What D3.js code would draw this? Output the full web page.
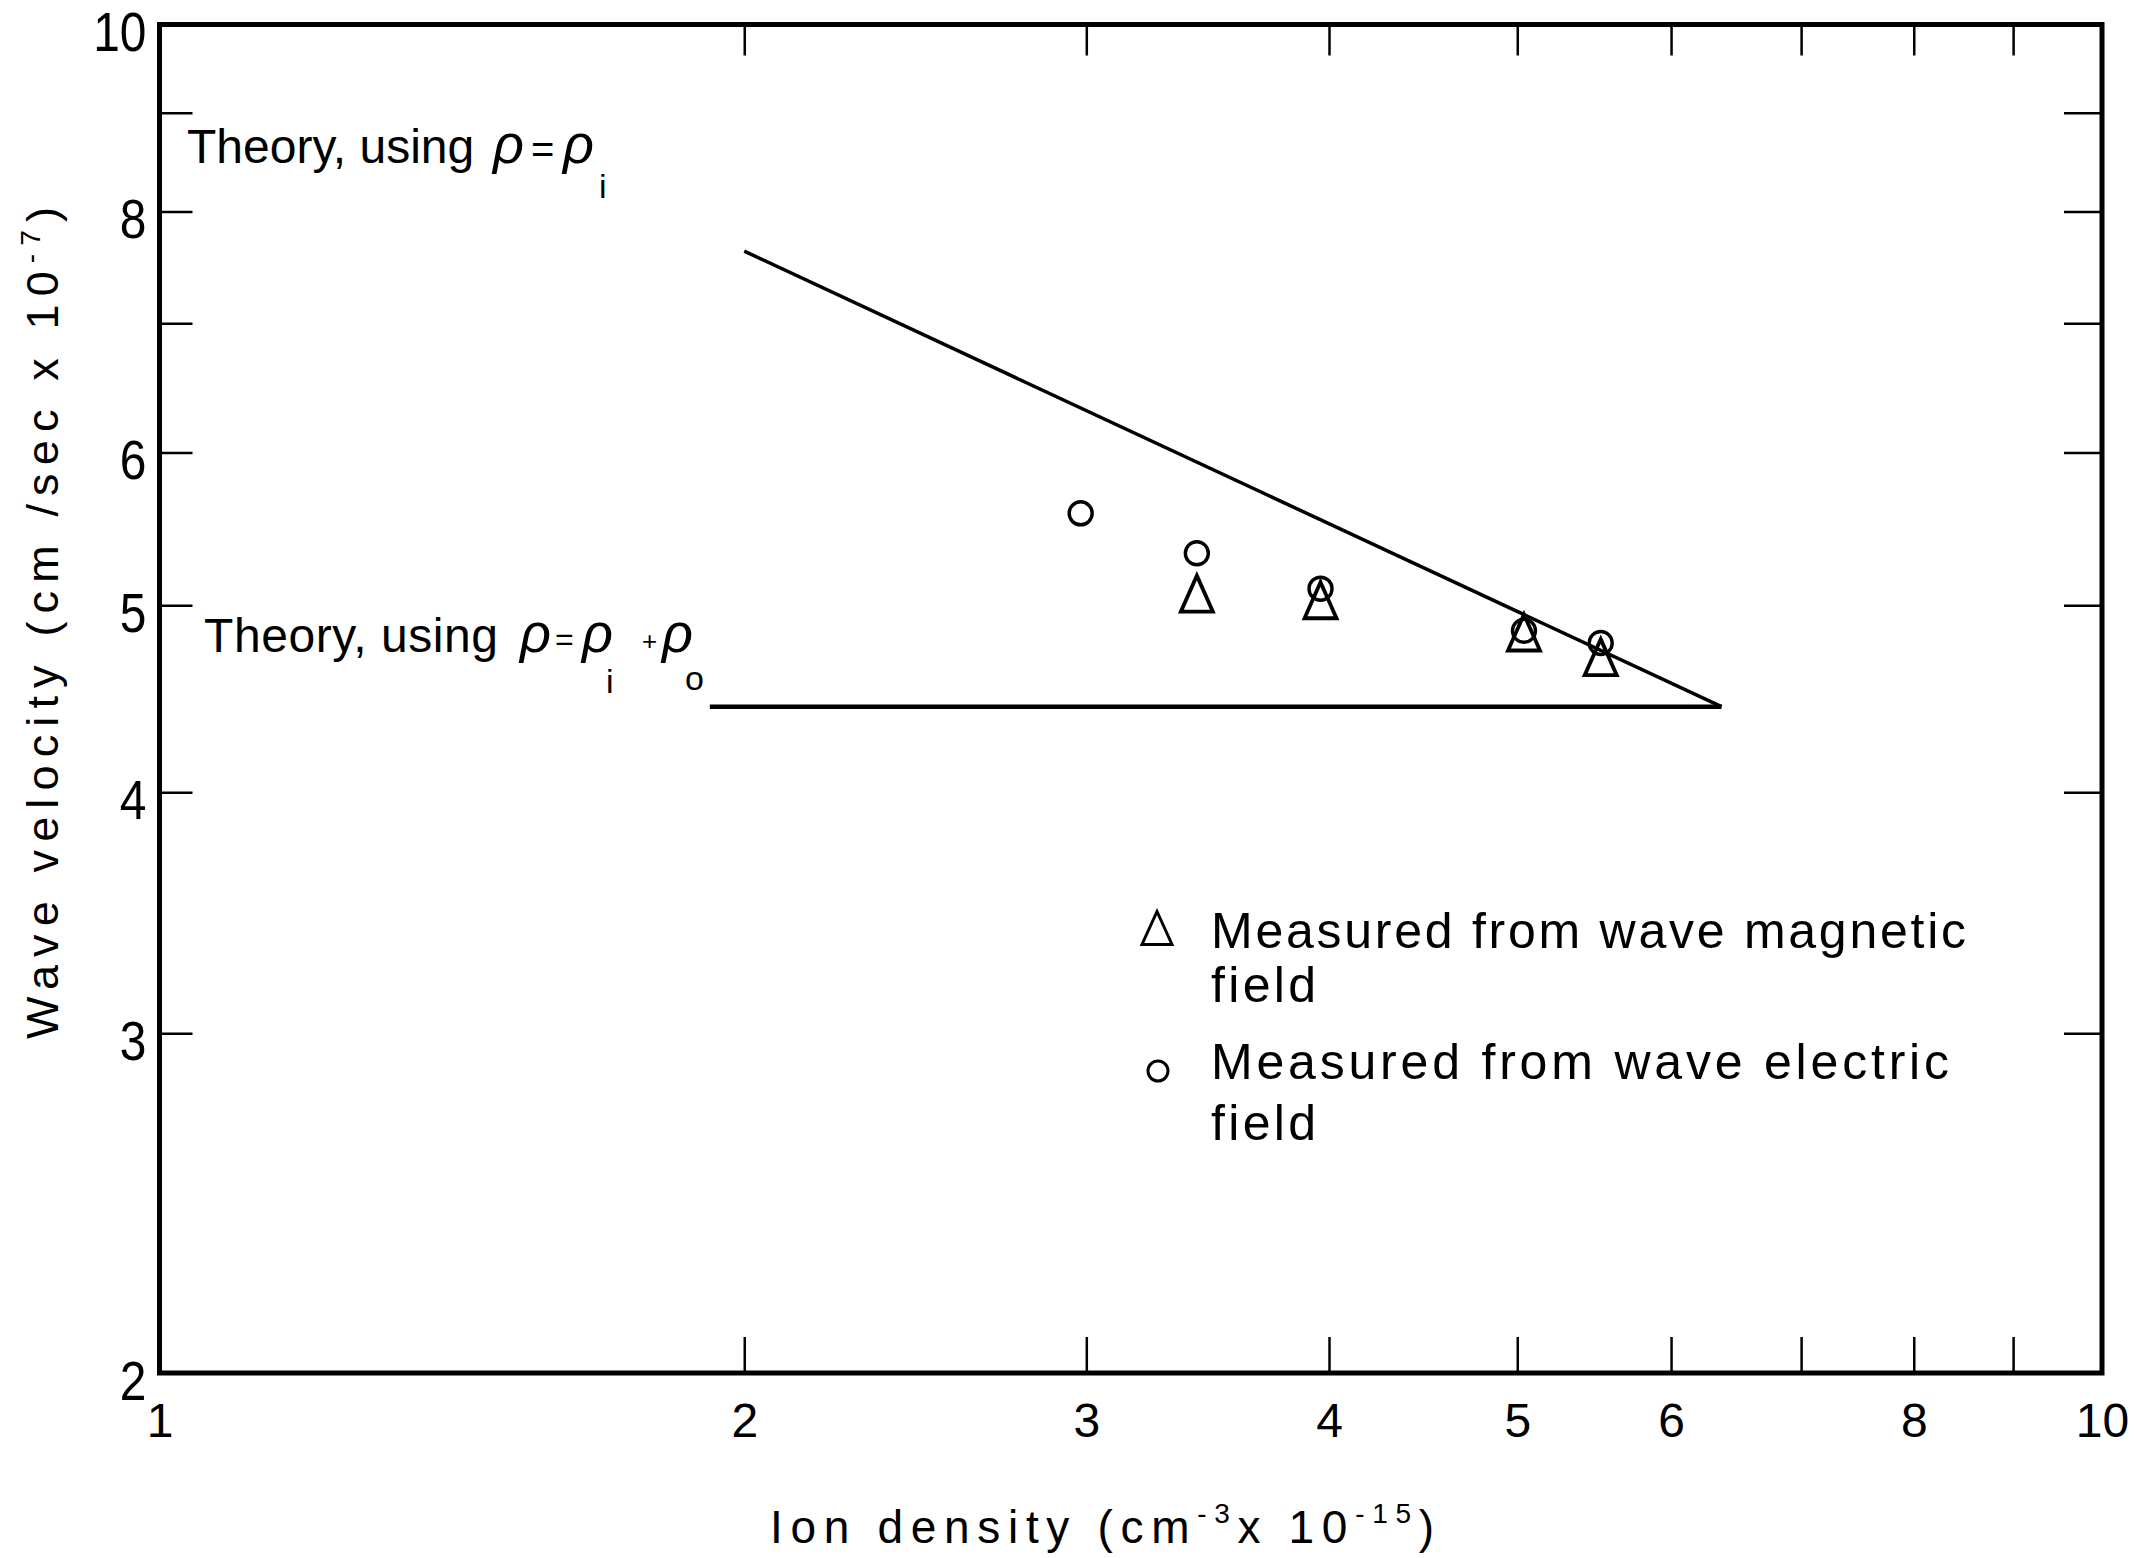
<!DOCTYPE html>
<html>
<head>
<meta charset="utf-8">
<script src="https://cdn.jsdelivr.net/npm/d3@7"></script>
<style>
  body { margin: 0; background: #fff; }
  svg { display: block; }
</style>
</head>
<body>
<div id="chart"></div>
<script>
const width = 2136
const height = 1558
const margin = { top: 24.5, left: 159.5, bottom: 185, right: 34 }

// ion density (cm^-3 x 10^-15) vs wave velocity (cm/sec x 10^-7)
const electricDensity = [2.98, 3.42, 3.96, 5.04, 5.52]
const electricVelocity = [5.58, 5.32, 5.10, 4.85, 4.78]
const magneticDensity = [3.42, 3.96, 5.04, 5.52]
const magneticVelocity = [5.07, 5.03, 4.84, 4.70]
const theoryIonDensity = [2.0, 6.37]
const theoryIonVelocity = [7.63, 4.43]
const theoryTotalDensity = [1.92, 6.37]
const theoryTotalVelocity = [4.43, 4.43]

const xTicks = [1, 2, 3, 4, 5, 6, 7, 8, 9, 10]
const xLabels = [1, 2, 3, 4, 5, 6, 8, 10]
const yTicks = [2, 3, 4, 5, 6, 7, 8, 9, 10]
const yLabels = [2, 3, 4, 5, 6, 8, 10]

const narrow = '"Liberation Sans Narrow", "Liberation Sans", Arial, sans-serif'
const sans = '"Liberation Sans", Arial, sans-serif'

const svg = d3.select('#chart')
  .append('svg')
  .attr('width', width)
  .attr('height', height)
  .style('background', '#fff')

const x = d3.scaleLog().domain([1, 10]).range([margin.left, width - margin.right])
const y = d3.scaleLog().domain([2, 10]).range([height - margin.bottom, margin.top])

function styleAxis (g) {
  g.select('.domain').remove()
  g.selectAll('.tick line').attr('stroke', '#000').attr('stroke-width', 2.5)
  g.selectAll('.tick text').attr('fill', '#000')
  g.attr('font-family', narrow).attr('font-size', 48)
}

svg.append('g')
  .attr('transform', 'translate(0,' + y.range()[0] + ')')
  .call(d3.axisBottom(x).tickValues(xTicks).tickSize(-36).tickPadding(30)
    .tickFormat(d => xLabels.includes(d) ? d : ''))
  .call(styleAxis)

svg.append('g')
  .attr('transform', 'translate(0,' + y.range()[1] + ')')
  .call(d3.axisTop(x).tickValues(xTicks).tickSize(-31).tickFormat(''))
  .call(styleAxis)

svg.append('g')
  .attr('transform', 'translate(' + x.range()[0] + ',0)')
  .call(d3.axisLeft(y).tickValues(yTicks).tickSize(-33).tickPadding(15)
    .tickFormat(d => yLabels.includes(d) ? d : ''))
  .call(styleAxis)
  .call(g => g.selectAll('.tick text')
    .attr('dy', '0.48em')
    .attr('font-size', 55)
    .attr('transform', 'scale(0.87,1)'))

svg.append('g')
  .attr('transform', 'translate(' + x.range()[1] + ',0)')
  .call(d3.axisRight(y).tickValues(yTicks).tickSize(-38).tickFormat(''))
  .call(styleAxis)

// frame
svg.append('rect')
  .attr('x', x.range()[0])
  .attr('y', y.range()[1])
  .attr('width', x.range()[1] - x.range()[0])
  .attr('height', y.range()[0] - y.range()[1])
  .attr('fill', 'none')
  .attr('stroke', '#000')
  .attr('stroke-width', 5)

// theory lines
const line = d3.line().x(d => x(d[0])).y(d => y(d[1]))
svg.append('path')
  .datum(d3.zip(theoryIonDensity, theoryIonVelocity))
  .attr('d', line)
  .attr('fill', 'none')
  .attr('stroke', '#000')
  .attr('stroke-width', 3.5)
svg.append('path')
  .datum(d3.zip(theoryTotalDensity, theoryTotalVelocity))
  .attr('d', line)
  .attr('fill', 'none')
  .attr('stroke', '#000')
  .attr('stroke-width', 4.5)

// measured points
const tri = (w, h) => 'M0,' + (-h / 2) + 'L' + (w / 2) + ',' + (h / 2) + 'L' + (-w / 2) + ',' + (h / 2) + 'Z'

svg.append('g')
  .selectAll('path')
  .data(d3.zip(magneticDensity, magneticVelocity))
  .join('path')
  .attr('d', tri(32, 36))
  .attr('transform', d => 'translate(' + x(d[0]) + ',' + y(d[1]) + ')')
  .attr('fill', 'none')
  .attr('stroke', '#000')
  .attr('stroke-width', 3.8)

svg.append('g')
  .selectAll('circle')
  .data(d3.zip(electricDensity, electricVelocity))
  .join('circle')
  .attr('cx', d => x(d[0]))
  .attr('cy', d => y(d[1]))
  .attr('r', 11.5)
  .attr('fill', 'none')
  .attr('stroke', '#000')
  .attr('stroke-width', 3.4)

// theory annotations
const t1 = svg.append('text')
  .attr('font-family', narrow)
  .attr('font-size', 48)
  .attr('fill', '#000')
t1.append('tspan').attr('x', 187).attr('y', 163).text('Theory, using')
t1.append('tspan').attr('x', 493).attr('y', 163).attr('font-style', 'italic').attr('font-size', 54).text('ρ')
t1.append('tspan').attr('x', 531).attr('y', 163).attr('font-size', 40).text('=')
t1.append('tspan').attr('x', 563).attr('y', 163).attr('font-style', 'italic').attr('font-size', 54).text('ρ')
t1.append('tspan').attr('x', 599).attr('y', 198).attr('font-size', 34).text('i')

const t2 = svg.append('text')
  .attr('font-family', narrow)
  .attr('font-size', 48)
  .attr('fill', '#000')
t2.append('tspan').attr('x', 204).attr('y', 652).attr('textLength', 294).attr('lengthAdjust', 'spacing').text('Theory, using')
t2.append('tspan').attr('x', 520).attr('y', 652).attr('font-style', 'italic').attr('font-size', 54).text('ρ')
t2.append('tspan').attr('x', 555).attr('y', 650).attr('font-size', 32).text('=')
t2.append('tspan').attr('x', 582).attr('y', 652).attr('font-style', 'italic').attr('font-size', 54).text('ρ')
t2.append('tspan').attr('x', 606).attr('y', 693).attr('font-size', 34).text('i')
t2.append('tspan').attr('x', 642).attr('y', 650).attr('font-size', 26).text('+')
t2.append('tspan').attr('x', 662).attr('y', 652).attr('font-style', 'italic').attr('font-size', 54).text('ρ')
t2.append('tspan').attr('x', 685).attr('y', 690).attr('font-size', 34).text('o')

// legend
const legend = svg.append('g')
  .attr('font-family', sans)
  .attr('font-size', 50)
  .attr('fill', '#000')
legend.append('path')
  .attr('d', tri(30, 33))
  .attr('transform', 'translate(1157,928)')
  .attr('fill', 'none')
  .attr('stroke', '#000')
  .attr('stroke-width', 3)
legend.append('circle')
  .attr('cx', 1158)
  .attr('cy', 1071)
  .attr('r', 10)
  .attr('fill', 'none')
  .attr('stroke', '#000')
  .attr('stroke-width', 3)
const legendLines = [
  ['Measured from wave magnetic', 948, 755],
  ['field', 1002, 105],
  ['Measured from wave electric', 1079, 738],
  ['field', 1140, 105]
]
legend.selectAll('text')
  .data(legendLines)
  .join('text')
  .attr('x', 1211)
  .attr('y', d => d[1])
  .attr('textLength', d => d[2])
  .attr('lengthAdjust', 'spacing')
  .text(d => d[0])

// axis titles
const xt = svg.append('text')
  .attr('x', 770)
  .attr('y', 1543)
  .attr('font-family', sans)
  .attr('font-size', 46)
  .attr('fill', '#000')
  .attr('textLength', 664)
  .attr('lengthAdjust', 'spacing')
xt.append('tspan').text('Ion  density  (cm')
xt.append('tspan').attr('dy', -20).attr('font-size', 28).text('-3')
xt.append('tspan').attr('dy', 20).text('x  10')
xt.append('tspan').attr('dy', -20).attr('font-size', 28).text('-15')
xt.append('tspan').attr('dy', 20).text(')')

const yt = svg.append('text')
  .attr('transform', 'translate(58,1039) rotate(-90)')
  .attr('font-family', sans)
  .attr('font-size', 45)
  .attr('fill', '#000')
  .attr('textLength', 832)
  .attr('lengthAdjust', 'spacing')
yt.append('tspan').text('Wave  velocity  (cm /sec x 10')
yt.append('tspan').attr('dy', -18).attr('font-size', 28).text('-7')
yt.append('tspan').attr('dy', 18).text(')')
</script>
</body>
</html>
